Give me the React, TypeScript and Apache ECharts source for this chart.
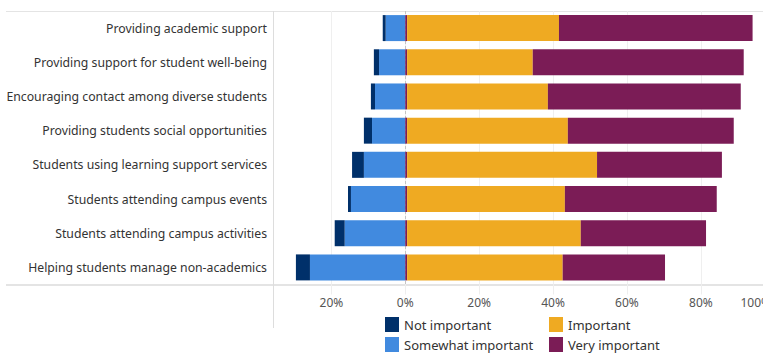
import React, { useEffect, useRef } from "react";
import * as echarts from "echarts";

const categories = [
  "Providing academic support",
  "Providing support for student well-being",
  "Encouraging contact among diverse students",
  "Providing students social opportunities",
  "Students using learning support services",
  "Students attending campus events",
  "Students attending campus activities",
  "Helping students manage non-academics",
];
// percentages; negative side drawn to the left of zero
const notImportant = [0.8, 1.4, 1.1, 2.2, 3.2, 0.8, 2.7, 3.8];
const somewhatImportant = [5.3, 7.1, 8.2, 9.0, 11.2, 14.7, 16.4, 25.8];
const zeroEdge = [0.5, 0.5, 0.5, 0.5, 0.5, 0.5, 0.5, 0.5];
const important = [41.1, 34.0, 38.1, 43.5, 51.4, 42.7, 47.0, 42.1];
const veryImportant = [52.4, 57.1, 52.2, 44.9, 33.8, 41.1, 33.9, 27.7];
const tickValues = [-20, 0, 20, 40, 60, 80, 100];

const FONT = "Noto Sans";
const C_NOT = "#00306a";
const C_SOME = "#418adf";
const C_IMP = "#efaa22";
const C_VERY = "#7b1c56";

export default function App() {
  const ref = useRef<HTMLDivElement>(null);
  useEffect(() => {
    if (!ref.current) return;
    const chart = echarts.init(ref.current, undefined, { renderer: "svg" });
    const barW = 26;
    chart.setOption({
      animation: false,
      textStyle: { fontFamily: FONT },
      grid: { left: 273, top: 11, width: 538.7, height: 273.5, containLabel: false },
      xAxis: {
        type: "value",
        min: -35.8,
        max: 110,
        axisLine: { show: false },
        axisTick: {
          show: true,
          length: 10,
          customValues: tickValues,
          lineStyle: { color: "#eeeeee", width: 1 },
        },
        splitLine: { show: true, lineStyle: { color: "#efefef", width: 1 } },
        axisLabel: {
          customValues: tickValues,
          formatter: (v: number) => (v === 100 ? "{last|100%}" : Math.abs(v) + "%"),
          color: "#555",
          fontSize: 12,
          margin: 12,
          fontFamily: FONT,
          rich: {
            last: { fontSize: 12, color: "#555", fontFamily: FONT, padding: [0, 38, 0, 0] },
          },
        },
      },
      yAxis: {
        type: "category",
        inverse: true,
        data: categories,
        axisLine: { show: false },
        axisTick: { show: false },
        axisLabel: { color: "#333", fontSize: 12.25, margin: 6, fontFamily: FONT },
      },
      legend: [
        {
          left: 385,
          top: 317,
          orient: "vertical",
          padding: 0,
          itemWidth: 14,
          itemHeight: 15,
          itemGap: 5,
          icon: "rect",
          data: ["Not important", "Somewhat important"],
          textStyle: { fontSize: 13, color: "#333", fontFamily: FONT },
        },
        {
          left: 549,
          top: 317,
          orient: "vertical",
          padding: 0,
          itemWidth: 14,
          itemHeight: 15,
          itemGap: 5,
          icon: "rect",
          data: ["Important", "Very important"],
          textStyle: { fontSize: 13, color: "#333", fontFamily: FONT },
        },
      ],
      series: [
        {
          name: "Somewhat important",
          type: "bar",
          stack: "s",
          barWidth: barW,
          itemStyle: { color: C_SOME },
          data: somewhatImportant.map((v) => -v),
          markLine: {
            silent: true,
            symbol: "none",
            z: 1,
            label: { show: false },
            lineStyle: { type: [3, 2], color: "#c4c4c4", width: 1 },
            data: [{ xAxis: 0 }],
          },
        },
        {
          name: "Not important",
          type: "bar",
          stack: "s",
          barWidth: barW,
          itemStyle: { color: C_NOT },
          data: notImportant.map((v) => -v),
        },
        {
          name: "edge",
          type: "bar",
          stack: "s",
          barWidth: barW,
          itemStyle: { color: C_VERY },
          data: zeroEdge,
        },
        {
          name: "Important",
          type: "bar",
          stack: "s",
          barWidth: barW,
          itemStyle: { color: C_IMP },
          data: important,
        },
        {
          name: "Very important",
          type: "bar",
          stack: "s",
          barWidth: barW,
          itemStyle: { color: C_VERY },
          data: veryImportant,
        },
      ],
      graphic: [
        { type: "line", silent: true, shape: { x1: 6, y1: 11.5, x2: 820, y2: 11.5 }, style: { stroke: "#e4e4e4", lineWidth: 1 } },
        { type: "line", silent: true, shape: { x1: 6, y1: 285, x2: 820, y2: 285 }, style: { stroke: "#e4e4e4", lineWidth: 2 } },
        { type: "line", silent: true, shape: { x1: 273.5, y1: 11, x2: 273.5, y2: 328 }, style: { stroke: "#dddddd", lineWidth: 1 } },
      ],
    });
    return () => chart.dispose();
  }, []);
  return (
    <div style={{ position: "fixed", left: 0, top: 0, width: 763, height: 354, overflow: "hidden", background: "#fff" }}>
      <div ref={ref} style={{ width: 820, height: 354 }} />
    </div>
  );
}
